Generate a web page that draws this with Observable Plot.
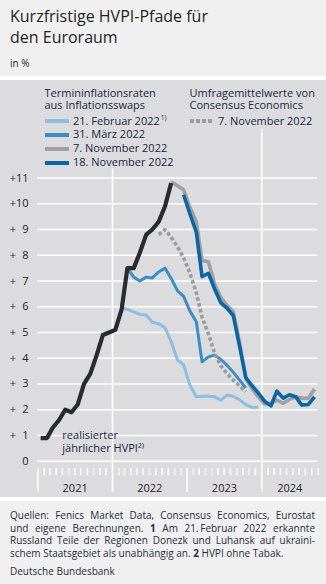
<!DOCTYPE html>
<html><head><meta charset="utf-8">
<script src="https://cdn.jsdelivr.net/npm/d3@7"></script>
<script src="https://cdn.jsdelivr.net/npm/@observablehq/plot@0.6"></script>
<style>
  html,body{margin:0;padding:0;background:#fff;}
  body{width:326px;height:584px;position:relative;overflow:hidden;font-family:"Open Sans",sans-serif;color:#1e2636;}
  #head{position:absolute;left:0;top:0;width:326px;height:76px;background:#f0f0f0;}
  #title{position:absolute;left:10px;top:6px;font-size:16px;line-height:21px;color:#1f1f24;}
  #unit{position:absolute;left:10px;top:56px;font-size:10px;color:#1f1f24;}
  #panel{position:absolute;left:0;top:80px;width:326px;height:417px;background:#dcdcdf;}
  #panel svg{position:absolute;left:0;top:0;}
  .lg{position:absolute;font-size:11px;line-height:12px;color:#1b2540;white-space:nowrap;}
  .lg.hd{line-height:12.5px;}
  .sw{position:absolute;height:4px;width:24px;}
  #foot{position:absolute;left:0;top:501px;width:326px;height:83px;background:#f0f0f0;}
  .fl{position:absolute;left:10px;width:305px;font-size:10px;line-height:12px;color:#2a2d3a;text-align:justify;text-align-last:justify;white-space:nowrap;}
  .fl.last{text-align-last:left;}
</style>
</head><body>
<div id="head">
  <div id="title">Kurzfristige HVPI-Pfade für<br>den Euroraum</div>
  <div id="unit">in %</div>
</div>
<div id="panel"></div>
<div id="foot">
  <div class="fl" style="top:8px">Quellen: Fenics Market Data, Consensus Economics, Eurostat</div>
  <div class="fl" style="top:20.5px">und eigene Berechnungen. <b>1</b> Am 21.&#8201;Februar 2022 erkannte</div>
  <div class="fl" style="top:33px">Russland Teile der Regionen Donezk und Luhansk auf ukraini-</div>
  <div class="fl last" style="top:45.5px">schem Staatsgebiet als unabhängig an. <b>2</b> HVPI ohne Tabak.</div>
  <div class="fl last" style="top:64px">Deutsche Bundesbank</div>
</div>
<script>
// ---- data (monthly values, %) ----
const hicpStart = "2021-01";
const hicpValues = [0.9, 0.9, 1.3, 1.6, 2.0, 1.9, 2.2, 3.0, 3.4, 4.1, 4.9, 5.0,
                    5.1, 5.9, 7.5, 7.5, 8.1, 8.8, 9.0, 9.3, 9.9, 10.8];
const feb21Start = "2022-02";
const feb21Values = [5.95, 5.9, 5.8, 5.7, 5.68, 5.4, 5.34, 5.18, 4.65, 3.93, 3.74,
                     2.95, 2.5, 2.52, 2.52, 2.5, 2.37, 2.57, 2.52, 2.38, 2.2, 2.09, 2.1];
const mar31Start = "2022-03";
const mar31Values = [7.5, 7.15, 7.0, 7.15, 7.12, 7.35, 7.5, 7.1, 6.62, 6.4,
                     5.83, 5.42, 3.86, 4.05, 4.12, 3.95, 3.73, 3.45, 3.15, 2.85];
const nov7Start = "2022-10";
const nov7Values = [10.85, 10.7, 10.54, 9.85, 9.3, 7.8, 7.75, 6.9, 6.35, 6.05, 5.8, 4.6,
                    3.2, 2.8, 2.5, 2.22, 2.25, 2.37, 2.25, 2.4, 2.5, 2.45, 2.44, 2.8];
const nov18Start = "2022-12";
const nov18Values = [10.35, 9.6, 8.9, 7.17, 7.3, 6.7, 6.15, 5.95, 5.65, 4.45, 3.25, 2.93, 2.65,
                     2.33, 2.15, 2.72, 2.45, 2.58, 2.5, 2.18, 2.2, 2.5];
const consStart = "2022-08";
const consValues = [8.8, 9.0, 8.7, 8.33, 7.9, 7.3, 6.54, 5.6, 4.95, 4.2, 3.7, 3.4, 3.15, 2.92, 2.7];
const yTicks = [0, 1, 2, 3, 4, 5, 6, 7, 8, 9, 10, 11];
const yearLabels = ["2021", "2022", "2023", "2024"];
const xStart = "2021-01", xEnd = "2024-10";
const annotation = "realisierter\njährlicher HVPI²⁾";

// ---- helpers ----
function md(start, i = 0, day = 15) {
  const [y, m] = start.split("-").map(Number);
  return new Date(Date.UTC(y, m - 1 + i, day));
}
function series(start, values) { return values.map((v, i) => ({date: md(start, i), value: v})); }

const dom = [md(xStart, 0, 1), md(xEnd, 0, 1)];
const months = d3.utcMonth.range(dom[0], d3.utcDay.offset(dom[1], 1));
const minor = months.filter(d => d.getUTCMonth() !== 0);
const years = yearLabels.map(y => new Date(Date.UTC(+y, 0, 1)));
const yearMid = years.map((d, i) => {
  const end = i < years.length - 1 ? years[i + 1] : dom[1];
  return {date: new Date((+d + +end) / 2), label: yearLabels[i]};
});

const C = {light: "#8cbde2", mid: "#3a8dc8", gray: "#a0a0a2", dark: "#0766a8", black: "#2a2b30", dot: "#9c9c9e"};
const lineOpts = (c, w) => ({x: "date", y: "value", stroke: c, strokeWidth: w, strokeLinecap: "butt", strokeLinejoin: "round"});

const chart = Plot.plot({
  width: 326, height: 417,
  marginLeft: 37.3, marginRight: 8.7, marginTop: 97.5, marginBottom: 36.3,
  style: {background: "transparent", fontFamily: "'Open Sans', sans-serif", fontSize: "11px", color: "#1f1f24"},
  x: {type: "utc", domain: dom, axis: null},
  y: {domain: [0, 11], label: null},
  marks: [
    Plot.ruleY(yTicks, {stroke: "#fff", strokeWidth: 1.6}),
    Plot.ruleX([years[1]], {y1: -1.22, y2: 11.35, stroke: "#fff", strokeWidth: 1.6}),
    Plot.ruleX([years[3]], {y1: -1.22, y2: 12.88, stroke: "#fff", strokeWidth: 1.6}),
    Plot.ruleX([years[0], years[2]], {y1: -0.28, y2: -1.22, stroke: "#fff", strokeWidth: 1.6}),
    Plot.ruleX(minor, {y1: -0.28, y2: -0.56, stroke: "#fff", strokeWidth: 1.5}),
    Plot.text(yearMid, {x: "date", y: -1.06, text: "label", fontSize: 11, fill: "#1f1f24"}),
    Plot.axisY(yTicks, {tickSize: 0, tickPadding: 9.3, fontSize: 11, label: null,
      tickFormat: d => d === 0 ? "0" : (d < 10 ? "+\u2007" + d : "+" + d)}),
    Plot.line(series(feb21Start, feb21Values), lineOpts(C.light, 3)),
    Plot.line(series(mar31Start, mar31Values), lineOpts(C.mid, 3)),
    Plot.line(series(consStart, consValues), {...lineOpts(C.dot, 3.6), strokeDasharray: "3.6,2.4", strokeLinejoin: "miter"}),
    Plot.line(series(nov7Start, nov7Values), lineOpts(C.gray, 3.6)),
    Plot.line(series(nov18Start, nov18Values), lineOpts(C.dark, 3.6)),
    Plot.line(series(hicpStart, hicpValues), lineOpts(C.black, 4.2)),
    Plot.text([annotation], {x: md("2021-05", 0, 1), y: 0.79, text: d => d, lineHeight: 1.18,
      textAnchor: "start", fontSize: 11, fill: "#1b2540"})
  ]
});
const panel = document.getElementById("panel");
panel.appendChild(chart);

// legend (HTML overlay inside panel)
const legendItems = [
  {t: "21. Februar 2022<sup style='font-size:6.5px;vertical-align:5px;line-height:0'>&#8201;1)</sup>", c: C.light, y: 34.5},
  {t: "31. März 2022", c: C.mid, y: 48},
  {t: "7. November 2022", c: C.gray, y: 62},
  {t: "18. November 2022", c: C.dark, y: 76}
];
function add(html, x, y, cls) {
  const d = document.createElement("div"); d.className = cls; d.style.left = x + "px"; d.style.top = y + "px";
  d.innerHTML = html; panel.appendChild(d); return d;
}
add("Termininflationsraten<br>aus Inflationsswaps", 44.5, 6.5, "lg hd");
legendItems.forEach(l => {
  const s = add("", 44.5, l.y + 4.5, "sw"); s.style.background = l.c;
  add(l.t, 73, l.y, "lg");
});
add("Umfragemittelwerte von<br>Consensus Economics", 189.5, 6.5, "lg hd");
const ds = add("", 189.5, 39, "sw");
ds.style.background = `repeating-linear-gradient(to right, ${C.dot} 0 4px, transparent 4px 6px)`;
add("7. November 2022", 218, 34.5, "lg");
</script>
</body></html>
